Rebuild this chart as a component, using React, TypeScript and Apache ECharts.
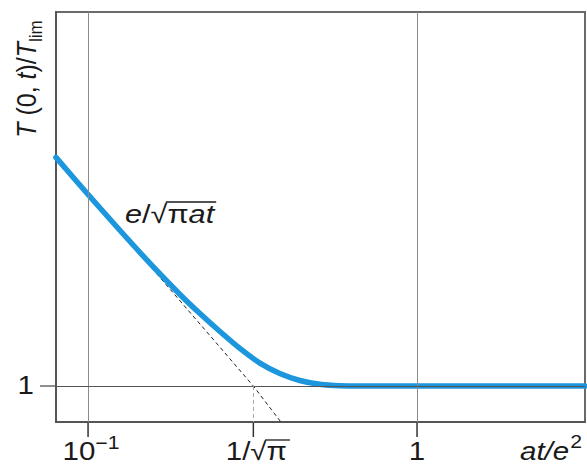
import React, { useEffect, useRef } from 'react';
import * as echarts from 'echarts';

// at/e^2 values and T(0,t)/T_lim values
const curveAt = [0.0799, 0.1, 0.1251, 0.1543, 0.1903, 0.2188, 0.2517, 0.2894, 0.333, 0.3828, 0.4402, 0.5062, 0.5822, 0.6697, 1.0, 2.0, 3.24];
const curveT = [1.981, 1.773, 1.592, 1.443, 1.315, 1.242, 1.177, 1.119, 1.071, 1.038, 1.0166, 1.0051, 1.0006, 1.0, 1.0, 1.0, 1.0];

// asymptote e/sqrt(pi a t)
const asymAt = [0.0799, 0.318, 0.3856];
const asymT = [1.985, 1.0, 0.898];

const xRange = [0.0799, 3.24];
const yRange = [0.898, 3.06];

const xGrid = [0.1, 1];
const yGrid = [1];
const xTickValues = [0.1, 0.318, 1];
const yTickValues = [1];
const dropAt = 0.318;

const FONT = '"Liberation Sans", Arial, Helvetica, sans-serif';
const TXT = '#1a1a1a';
const BLUE = '#1c96dc';

export default function App() {
  const ref = useRef<HTMLDivElement>(null);
  useEffect(() => {
    document.body.style.margin = '0';
    const chart = echarts.init(ref.current!, null, { renderer: 'svg' });
    const option: any = {
      animation: false,
      grid: { left: 56, right: 2, top: 12, bottom: 44, show: true, borderColor: '#6a6a6a', borderWidth: 2, backgroundColor: 'transparent' },
      xAxis: {
        type: 'log', logBase: 10, min: xRange[0], max: xRange[1],
        axisLine: { show: true, onZero: false, lineStyle: { color: '#555', width: 2 } },
        axisTick: { show: false }, axisLabel: { show: false }, splitLine: { show: false },
      },
      yAxis: {
        type: 'log', logBase: 10, min: yRange[0], max: yRange[1],
        axisLine: { show: true, onZero: false, lineStyle: { color: '#555', width: 2 } },
        axisTick: { show: false }, axisLabel: { show: false }, splitLine: { show: false },
      },
      series: [
        {
          type: 'line', name: 'asymptote', z: 2, silent: true,
          data: asymAt.map((x, i) => [x, asymT[i]]),
          symbol: 'none',
          lineStyle: { color: '#222', width: 1, type: [4, 3] },
          markLine: {
            silent: true, symbol: 'none', label: { show: false }, animation: false,
            data: [
              ...xGrid.map((v) => ({ xAxis: v, lineStyle: { color: '#8c8c8c', width: 1, type: 'solid' } })),
              ...yGrid.map((v) => ({ yAxis: v, lineStyle: { color: '#555', width: 1.2, type: 'solid' } })),
              [
                { coord: [dropAt, yGrid[0]], lineStyle: { color: '#aaa', width: 1, type: [4, 3] } },
                { coord: [dropAt, yRange[0]] },
              ],
            ],
          },
        },
        {
          type: 'line', name: 'curve', z: 3, silent: true,
          data: curveAt.map((x, i) => [x, curveT[i]]),
          symbol: 'none', smooth: 0.25,
          lineStyle: { color: BLUE, width: 5.5, cap: 'round', join: 'round' },
        },
      ],
    };
    chart.setOption(option);

    const P = (x: number, y: number) => chart.convertToPixel({ gridIndex: 0 }, [x, y]) as number[];
    const bottom = P(xRange[0], yRange[0]);
    const bottomY = bottom[1];
    const leftX = bottom[0];
    const rightX = P(xRange[1], 1)[0];

    const SX = 1.18; // horizontal stretch of the reference lettering
    const ctx = document.createElement('canvas').getContext('2d')!;
    const measure = (t: string, size: number, italic = false) => {
      ctx.font = `${italic ? 'italic ' : ''}${size}px ${FONT}`;
      return ctx.measureText(t).width * SX;
    };
    const txt = (x: number, y: number, text: string, size: number, align: string, italic = false) => ({
      type: 'text', silent: true, x, y, scaleX: SX,
      style: { text, font: `${italic ? 'italic ' : ''}${size}px ${FONT}`, fill: TXT, align, verticalAlign: 'top' },
    });

    const LS = 25; // label font size
    const SUP = 17;
    const labelTop = bottomY + 17;
    const g: any[] = [];

    // x ticks
    xTickValues.forEach((v) => {
      const x = P(v, yRange[0])[0];
      g.push({ type: 'line', silent: true, shape: { x1: x, y1: bottomY, x2: x, y2: bottomY + 15 }, style: { stroke: '#333', lineWidth: 1.5 } });
    });
    // y ticks
    yTickValues.forEach((v) => {
      const y = P(xRange[0], v)[1];
      g.push({ type: 'line', silent: true, shape: { x1: leftX - 16, y1: y, x2: leftX, y2: y }, style: { stroke: '#444', lineWidth: 1.2 } });
      g.push(txt(leftX - 22, y - 13, '1', LS, 'right'));
    });

    // 10^-1
    {
      const x = P(xTickValues[0], 1)[0];
      const w1 = measure('10', LS);
      const w2 = measure('−1', SUP + 1);
      const sx = x - (w1 + w2) / 2 + 3;
      g.push(txt(sx, labelTop, '10', LS, 'left'));
      g.push(txt(sx + w1, labelTop - 5, '−1', SUP + 1, 'left'));
    }
    // 1/sqrt(pi)
    {
      const x = P(xTickValues[1], 1)[0];
      const wa = measure('1/√', LS);
      const wp = measure('π', LS);
      const sx = x - (wa + wp) / 2 + 3;
      g.push(txt(sx, labelTop, '1/√π', LS, 'left'));
      g.push({ type: 'line', silent: true, shape: { x1: sx + wa - 1.5, y1: labelTop + 1, x2: sx + wa + wp + 3, y2: labelTop + 1 }, style: { stroke: TXT, lineWidth: 1.3 } });
    }
    // 1
    {
      const x = P(xTickValues[2], 1)[0];
      g.push(txt(x, labelTop, '1', LS, 'center'));
    }
    // x axis name at/e^2
    {
      const right = rightX - 3;
      const w2 = measure('2', SUP + 1);
      g.push(txt(right - w2, labelTop - 6, '2', SUP + 1, 'left'));
      g.push(txt(right - w2 - 1, labelTop, 'at/e', LS, 'right', true));
    }
    // y axis name
    g.push({
      type: 'text', silent: true, x: 27, y: 79, rotation: Math.PI / 2, scaleY: 1.08,
      style: {
        text: '{i|T} (0, {i|t})/{i|T}{s|lim}',
        font: `${LS}px ${FONT}`, fill: TXT, align: 'center', verticalAlign: 'middle',
        rich: {
          i: { fontStyle: 'italic', fontSize: LS, fontFamily: FONT, lineHeight: 34 },
          s: { fontSize: SUP, fontFamily: FONT, lineHeight: 17, verticalAlign: 'bottom' },
        },
        lineHeight: 34,
      },
    });
    // annotation e/sqrt(pi a t)
    {
      const AS = 26;
      const ax = 125;
      const ay = 201;
      const wE = measure('e', AS, true);
      const wS = measure('/√', AS);
      const wpi = measure('π', AS);
      const wat = measure('at', AS, true);
      g.push(txt(ax, ay, 'e', AS, 'left', true));
      g.push(txt(ax + wE, ay, '/√π', AS, 'left'));
      g.push(txt(ax + wE + wS + wpi, ay, 'at', AS, 'left', true));
      g.push({ type: 'line', silent: true, shape: { x1: ax + wE + wS - 1.5, y1: ay + 1, x2: ax + wE + wS + wpi + wat + 2, y2: ay + 1 }, style: { stroke: TXT, lineWidth: 1.3 } });
    }

    chart.setOption({ graphic: g });
    return () => chart.dispose();
  }, []);
  return <div ref={ref} style={{ width: 587, height: 466 }} />;
}
